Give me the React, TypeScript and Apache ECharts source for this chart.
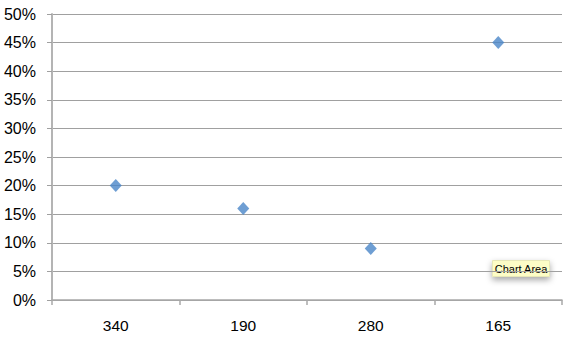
import React, { useEffect, useRef } from "react";
import * as echarts from "echarts";

const categories = ["340", "190", "280", "165"];
const values = [0.2, 0.16, 0.09, 0.45];
const yTicks = { min: 0, max: 0.5, interval: 0.05 };

export default function App() {
  const ref = useRef<HTMLDivElement>(null);
  useEffect(() => {
    const chart = echarts.init(ref.current!, null, { renderer: "svg" });
    chart.setOption({
      animation: false,
      backgroundColor: "#ffffff",
      grid: { left: 52, right: 15, top: 14, bottom: 41, containLabel: false },
      xAxis: {
        type: "category",
        data: categories,
        boundaryGap: true,
        axisLine: { lineStyle: { color: "#a8a8a8", width: 1.5 } },
        axisTick: { show: true, length: 5, lineStyle: { color: "#a8a8a8", width: 1.5 } },
        axisLabel: { color: "#000", fontSize: 15.5, fontFamily: "Liberation Sans, Arial, sans-serif", margin: 17 },
        splitLine: { show: false },
      },
      yAxis: {
        type: "value",
        min: yTicks.min,
        max: yTicks.max,
        interval: yTicks.interval,
        axisLine: { show: true, lineStyle: { color: "#b4b4b4", width: 2 } },
        axisTick: { show: true, length: 5, lineStyle: { color: "#a0a0a0" } },
        axisLabel: {
          color: "#000",
          fontSize: 16,
          fontFamily: "Liberation Sans, Arial, sans-serif",
          margin: 16,
          formatter: (v: number) => `${Math.round(v * 100)}%`,
        },
        splitLine: { show: true, lineStyle: { color: "#a0a0a0", width: 1 } },
      },
      series: [
        {
          type: "scatter",
          data: values,
          symbol: "diamond",
          symbolSize: [12, 13],
          itemStyle: { color: "#4a86c8" },
        },
      ],
      graphic: [
        {
          type: "group",
          left: 492,
          top: 260,
          children: [
            {
              type: "rect",
              shape: { x: 0, y: 0, width: 57, height: 16 },
              style: {
                fill: "#fdfdc6",
                stroke: "#e8e8b8",
                lineWidth: 1,
                shadowBlur: 6,
                shadowOffsetY: 3,
                shadowColor: "rgba(0,0,0,0.35)",
              },
            },
            {
              type: "text",
              x: 28.5,
              y: 8.5,
              style: {
                text: "Chart Area",
                fill: "#000",
                font: "11px 'Liberation Sans', Arial, sans-serif",
                align: "center",
                verticalAlign: "middle",
              },
            },
          ],
        },
      ],
    });
    return () => chart.dispose();
  }, []);
  return (
    <div
      ref={ref}
      style={{ position: "fixed", left: 0, top: 0, width: 577, height: 341 }}
    />
  );
}
